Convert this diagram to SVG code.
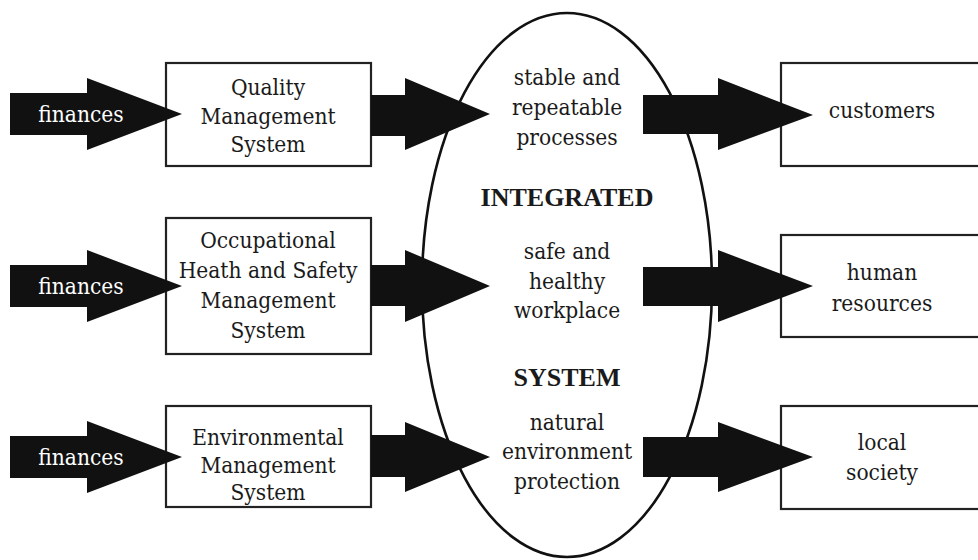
<svg xmlns="http://www.w3.org/2000/svg" width="978" height="560" viewBox="0 0 978 560">
<style>
.box{fill:#fff;stroke:#222;stroke-width:2.2}
.ell{fill:none;stroke:#111;stroke-width:2.6}
.arr{fill:#111;stroke:none}
.t{font-family:"DejaVu Serif","Liberation Serif",serif;font-stretch:condensed;font-size:22.5px;fill:#1a1a1a;text-anchor:middle}
.w{fill:#fff}
.b{font-family:"Liberation Serif","Times New Roman",serif;font-stretch:normal;font-size:26px;font-weight:bold}
</style>
<rect width="978" height="560" fill="#fff"/>
<g id="integrated-system">
<ellipse class="ell" cx="567" cy="285" rx="145" ry="272"/>
<text class="t" x="567" y="85">stable and</text>
<text class="t" x="567" y="115">repeatable</text>
<text class="t" x="567" y="145">processes</text>
<text class="t b" x="567" y="206">INTEGRATED</text>
<text class="t" x="567" y="259">safe and</text>
<text class="t" x="567" y="289">healthy</text>
<text class="t" x="567" y="318">workplace</text>
<text class="t b" x="567" y="386">SYSTEM</text>
<text class="t" x="567" y="430">natural</text>
<text class="t" x="567" y="459">environment</text>
<text class="t" x="567" y="489">protection</text>
</g>
<g id="qms">
<rect class="box" x="166" y="63" width="205" height="103"/>
<text class="t" x="268" y="95">Quality</text>
<text class="t" x="268" y="124">Management</text>
<text class="t" x="268" y="152">System</text>
</g>
<g id="ohsms">
<rect class="box" x="166" y="218" width="205" height="136"/>
<text class="t" x="268" y="248">Occupational</text>
<text class="t" x="268" y="278">Heath and Safety</text>
<text class="t" x="268" y="308">Management</text>
<text class="t" x="268" y="338">System</text>
</g>
<g id="ems">
<rect class="box" x="166" y="406" width="205" height="101"/>
<text class="t" x="268" y="445">Environmental</text>
<text class="t" x="268" y="473">Management</text>
<text class="t" x="268" y="500">System</text>
</g>
<g id="customers">
<rect class="box" x="781" y="63" width="204" height="103"/>
<text class="t" x="882" y="118">customers</text>
</g>
<g id="human-resources">
<rect class="box" x="781" y="235" width="204" height="102"/>
<text class="t" x="882" y="280">human</text>
<text class="t" x="882" y="311">resources</text>
</g>
<g id="local-society">
<rect class="box" x="781" y="406" width="204" height="103"/>
<text class="t" x="882" y="450">local</text>
<text class="t" x="882" y="480">society</text>
</g>
<g id="connectors">
<polygon class="arr" points="10,93 87,93 87,78 182,114 87,150 87,135 10,135"/>
<polygon class="arr" points="10,265 87,265 87,250 182,286 87,322 87,307 10,307"/>
<polygon class="arr" points="10,436 87,436 87,421 182,457 87,493 87,478 10,478"/>
<polygon class="arr" points="371,95 405,95 405,78 490,114 405,150 405,136 371,136"/>
<polygon class="arr" points="371,265 405,265 405,250 490,286 405,322 405,306 371,306"/>
<polygon class="arr" points="371,435 405,435 405,422 490,457 405,492 405,477 371,477"/>
<polygon class="arr" points="643,95 718,95 718,78 813,115 718,150 718,134 643,134"/>
<polygon class="arr" points="643,267 718,267 718,250 813,286 718,322 718,306 643,306"/>
<polygon class="arr" points="643,437 718,437 718,422 813,457 718,492 718,477 643,477"/>
</g>
<g id="finances-labels">
<text class="t w" x="81" y="122">finances</text>
<text class="t w" x="81" y="294">finances</text>
<text class="t w" x="81" y="465">finances</text>
</g>
</svg>
